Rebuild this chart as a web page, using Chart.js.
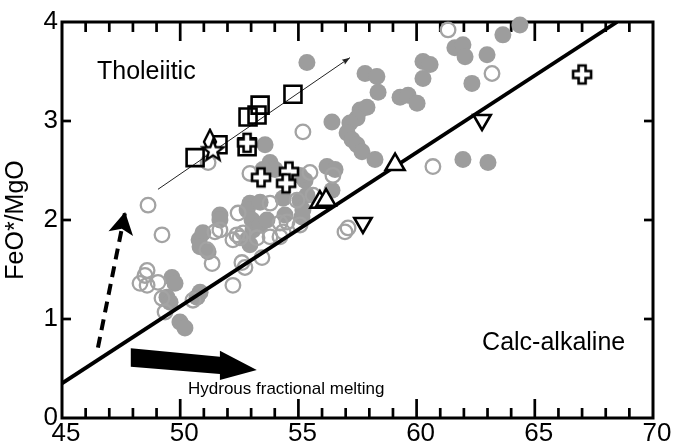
<!DOCTYPE html>
<html><head><meta charset="utf-8">
<script src="https://cdn.jsdelivr.net/npm/chart.js@4.4.1/dist/chart.umd.min.js"></script>
<style>html,body{margin:0;padding:0;background:#fff;}#wrap{width:673px;height:447px;}</style>
</head><body><div id="wrap"><canvas id="c" width="673" height="447"></canvas></div>
<script>
// ---- data (SiO2 wt% vs FeO*/MgO) ----
const filledX = [64.37,63.65,61.62,61.96,62.05,62.98,62.34,60.27,60.57,60.27,57.82,58.32,58.37,59.30,59.64,60.02,57.61,57.90,57.48,56.42,57.18,57.06,57.27,57.48,57.69,58.24,55.36,61.96,63.02,56.21,56.55,55.28,56.42,53.59,53.80,54.01,53.50,54.35,55.07,55.36,55.15,52.95,52.83,53.38,53.04,53.08,53.38,53.67,52.95,51.68,51.68,50.80,50.96,50.84,51.18,49.65,49.78,49.44,49.57,49.99,50.20,50.84,50.71,55.19,55.07,54.43,52.83];
const filledY = [3.97,3.87,3.74,3.77,3.65,3.67,3.38,3.60,3.57,3.43,3.48,3.45,3.29,3.24,3.26,3.18,3.11,3.14,3.03,2.99,2.98,2.88,2.81,2.76,2.69,2.61,3.59,2.61,2.58,2.54,2.51,2.40,2.30,2.76,2.58,2.51,2.51,2.22,2.20,2.25,2.03,2.17,2.10,2.18,2.00,1.90,1.95,2.00,1.75,2.05,2.00,1.80,1.87,1.73,1.68,1.42,1.36,1.22,1.17,0.97,0.91,1.27,1.22,2.10,2.45,2.05,1.80];
const openX = [61.33,63.19,55.19,60.69,56.97,57.10,55.49,56.46,54.94,55.62,53.80,52.45,52.66,52.40,52.23,53.25,53.80,54.22,54.52,54.35,51.68,51.13,51.35,52.61,53.46,52.74,52.23,48.64,49.23,48.51,48.30,48.60,49.06,49.23,49.36,50.54,51.47,52.95,51.18,55.07,52.53,54.22,48.60];
const openY = [3.92,3.48,2.89,2.54,1.88,1.92,2.48,2.45,2.20,2.25,2.17,2.07,1.87,1.85,1.80,1.82,1.83,1.97,1.98,1.88,1.90,1.70,1.56,1.57,1.62,1.52,1.34,2.15,1.85,1.44,1.36,1.34,1.37,1.21,1.07,1.19,1.88,2.47,2.58,1.95,1.82,1.83,1.49];
const squareX = [54.77,53.38,52.87,53.25,50.63,51.60,52.83];
const squareY = [3.27,3.16,3.04,3.06,2.63,2.76,2.74];
const crossX = [53.42,54.60,54.48,67.00,52.83];
const crossY = [2.43,2.49,2.37,3.47,2.78];
const triUpX = [55.91,56.17,59.09];
const triUpY = [2.18,2.20,2.56];
const triDownX = [57.73,62.77];
const triDownY = [1.97,3.01];
const diamondX = [51.26];
const diamondY = [2.79];
const starX = [51.39];
const starY = [2.71];
// classification line, trend arrows
const divideX = [45, 68.48];
const divideY = [0.35, 4.0];
const trendX = [49.06, 57.18];
const trendY = [2.31, 3.64];
const dashX = [46.52, 47.67];
const dashY = [0.71, 2.08];
const bigArrowX = [47.91, 51.68, 51.68, 53.24, 51.68, 51.68, 47.91];
const bigArrowY = [0.704, 0.619, 0.680, 0.485, 0.384, 0.444, 0.518];
// axes
const xTicks = [45, 50, 55, 60, 65, 70];
const yTicks = [0, 1, 2, 3, 4];
const xMinorTicks = [46,47,48,49,50,51,52,53,54,55,56,57,58,59,60,61,62,63,64,65,66,67,68,69];
const yInnerTicks = [1, 2, 3];
const labels = [
  {text:'Tholeiitic', x:46.48, y:3.495, size:25},
  {text:'Calc-alkaline', x:62.77, y:0.758, size:25},
  {text:'Hydrous fractional melting', x:50.33, y:0.293, size:17}
];

const X_MIN = 45, X_MAX = 70, Y_MIN = 0, Y_MAX = 4;
const FONT = "'Liberation Sans', Arial, Helvetica, sans-serif";
const pts = (xs, ys) => xs.map((x, i) => ({x, y: ys[i]}));

function mk(w, h, draw){ const c=document.createElement('canvas'); c.width=w; c.height=h; draw(c.getContext('2d'), w, h); return c; }
const crossImg = mk(24,24,(g,w,h)=>{
  const cx=w/2, cy=h/2, R=9, a=3.5;
  g.beginPath();
  g.moveTo(cx-a,cy-R); g.lineTo(cx+a,cy-R); g.lineTo(cx+a,cy-a); g.lineTo(cx+R,cy-a); g.lineTo(cx+R,cy+a);
  g.lineTo(cx+a,cy+a); g.lineTo(cx+a,cy+R); g.lineTo(cx-a,cy+R); g.lineTo(cx-a,cy+a); g.lineTo(cx-R,cy+a);
  g.lineTo(cx-R,cy-a); g.lineTo(cx-a,cy-a); g.closePath();
  g.fillStyle='#fff'; g.fill(); g.lineWidth=2.6; g.strokeStyle='#000'; g.lineJoin='miter'; g.stroke();
});
const starImg = mk(26,26,(g,w,h)=>{
  const cx=w/2, cy=h/2+1, Ro=11, Ri=4.6;
  g.beginPath();
  for(let i=0;i<10;i++){ const r=i%2?Ri:Ro; const ang=-Math.PI/2+i*Math.PI/5; const px=cx+r*Math.cos(ang), py=cy+r*Math.sin(ang); i?g.lineTo(px,py):g.moveTo(px,py); }
  g.closePath(); g.fillStyle='#fff'; g.fill(); g.lineWidth=2.4; g.strokeStyle='#000'; g.stroke();
});
const diamondImg = mk(18,28,(g,w,h)=>{
  const cx=w/2, cy=h/2;
  g.beginPath(); g.moveTo(cx,cy-12); g.lineTo(cx+6,cy); g.lineTo(cx,cy+12); g.lineTo(cx-6,cy); g.closePath();
  g.fillStyle='#fff'; g.fill(); g.lineWidth=2.4; g.strokeStyle='#000'; g.stroke();
});

const frameTicks = {
  id: 'frameTicks',
  beforeDatasetsDraw(chart){
    const ctx = chart.ctx, a = chart.chartArea;
    const xs = chart.scales.x, ys = chart.scales.y;
    ctx.save();
    ctx.setLineDash([]);
    ctx.strokeStyle = '#000';
    ctx.lineWidth = 2.7;
    ctx.lineCap = 'butt';
    xMinorTicks.forEach(v => {
      const px = xs.getPixelForValue(v);
      const L = (v % 5 === 0) ? 19 : 10;
      ctx.beginPath(); ctx.moveTo(px, a.bottom); ctx.lineTo(px, a.bottom - L); ctx.stroke();
      ctx.beginPath(); ctx.moveTo(px, a.top); ctx.lineTo(px, a.top + L); ctx.stroke();
    });
    yInnerTicks.forEach(v => {
      const py = ys.getPixelForValue(v);
      ctx.beginPath(); ctx.moveTo(a.left, py); ctx.lineTo(a.left + 9, py); ctx.stroke();
      ctx.beginPath(); ctx.moveTo(a.right, py); ctx.lineTo(a.right - 9, py); ctx.stroke();
    });
    ctx.lineWidth = 3;
    ctx.lineJoin = 'miter';
    ctx.strokeRect(xs.getPixelForValue(X_MIN), ys.getPixelForValue(Y_MAX),
      xs.getPixelForValue(X_MAX) - xs.getPixelForValue(X_MIN), ys.getPixelForValue(Y_MIN) - ys.getPixelForValue(Y_MAX));
    ctx.restore();
  }
};

const annot = {
  id: 'annot',
  afterDatasetsDraw(chart){
    const {ctx, scales:{x, y}} = chart;
    const P = (vx, vy) => [x.getPixelForValue(vx), y.getPixelForValue(vy)];
    ctx.save();
    ctx.beginPath();
    bigArrowX.forEach((vx,i)=>{ const [px,py]=P(vx,bigArrowY[i]); i?ctx.lineTo(px,py):ctx.moveTo(px,py); });
    ctx.closePath(); ctx.fillStyle='#000'; ctx.fill();
    function head(x0,y0,x1,y1,len,hw,notch){
      const [ax,ay]=P(x0,y0), [bx,by]=P(x1,y1);
      const dx=bx-ax, dy=by-ay, d=Math.hypot(dx,dy), ux=dx/d, uy=dy/d, nx=-uy, ny=ux;
      const cx=bx-ux*len, cy=by-uy*len;
      ctx.beginPath(); ctx.moveTo(bx,by);
      ctx.lineTo(cx+nx*hw, cy+ny*hw);
      ctx.lineTo(bx-ux*(len-notch), by-uy*(len-notch));
      ctx.lineTo(cx-nx*hw, cy-ny*hw);
      ctx.closePath(); ctx.fill();
    }
    ctx.fillStyle='#000';
    head(dashX[0],dashY[0],dashX[1],dashY[1],22,12.5,5);
    ctx.fillStyle='#222';
    head(trendX[0],trendY[0],trendX[1],trendY[1],8,2.8,1);
    ctx.fillStyle='#000'; ctx.textAlign='left'; ctx.textBaseline='middle';
    labels.forEach(l=>{ const [px,py]=P(l.x,l.y); ctx.font = l.size+'px '+FONT; ctx.fillText(l.text, px, py); });
    ctx.restore();
  }
};

new Chart(document.getElementById('c'), {
  type: 'scatter',
  data: { datasets: [
    {data: pts(filledX, filledY), pointStyle:'circle', pointRadius:8.5, backgroundColor:'#9d9d9d', borderColor:'#9d9d9d', borderWidth:0, clip:false, order:9},
    {data: pts(openX, openY), pointStyle:'circle', pointRadius:7.3, backgroundColor:'rgba(0,0,0,0)', borderColor:'#a3a3a3', borderWidth:2.3, clip:false, order:8},
    {type:'line', data: pts(divideX, divideY), borderColor:'#000', borderWidth:3.8, pointRadius:0, order:7},
    {type:'line', data: pts(trendX, trendY), borderColor:'#222', borderWidth:1, pointRadius:0, order:6},
    {type:'line', data: pts(dashX, dashY), borderColor:'#000', borderWidth:4, borderDash:[11,7], pointRadius:0, order:5},
    {data: pts(squareX, squareY), pointStyle:'rect', pointRadius:12, backgroundColor:'rgba(0,0,0,0)', borderColor:'#000', borderWidth:2.6, order:4},
    {data: pts(triUpX, triUpY), pointStyle:'triangle', pointRadius:11, backgroundColor:'#fff', borderColor:'#000', borderWidth:2.6, order:3},
    {data: pts(triDownX, triDownY), pointStyle:'triangle', rotation:180, pointRadius:10, backgroundColor:'#fff', borderColor:'#000', borderWidth:2.6, order:3},
    {data: pts(crossX, crossY), pointStyle: crossImg, pointRadius:10, order:2},
    {data: pts(diamondX, diamondY), pointStyle: diamondImg, pointRadius:10, order:1},
    {data: pts(starX, starY), pointStyle: starImg, pointRadius:10, order:0}
  ]},
  options: {
    responsive:false, animation:false, events:[],
    layout:{padding:{top:22, right:20, left:0, bottom:0}},
    plugins:{legend:{display:false}, tooltip:{enabled:false}},
    scales:{
      x:{type:'linear', min:X_MIN, max:X_MAX,
        afterBuildTicks: s => { s.ticks = xTicks.map(v=>({value:v})); },
        afterFit: s => { s.height = 29; },
        grid:{display:false, drawTicks:false}, border:{display:false},
        ticks:{font:{size:26, family:FONT}, color:'#000', padding:0, labelOffset:4, maxRotation:0, autoSkip:false}},
      y:{type:'linear', min:Y_MIN, max:Y_MAX,
        afterBuildTicks: s => { s.ticks = yTicks.map(v=>({value:v})); },
        afterFit: s => { s.width = 62; },
        grid:{display:false, drawTicks:false}, border:{display:false},
        title:{display:true, text:'FeO*/MgO', font:{size:25, family:FONT}, color:'#000', padding:{top:1,bottom:0}},
        ticks:{font:{size:26, family:FONT}, color:'#000', padding:4}}
    }
  },
  plugins:[frameTicks, annot]
});
</script></body></html>
